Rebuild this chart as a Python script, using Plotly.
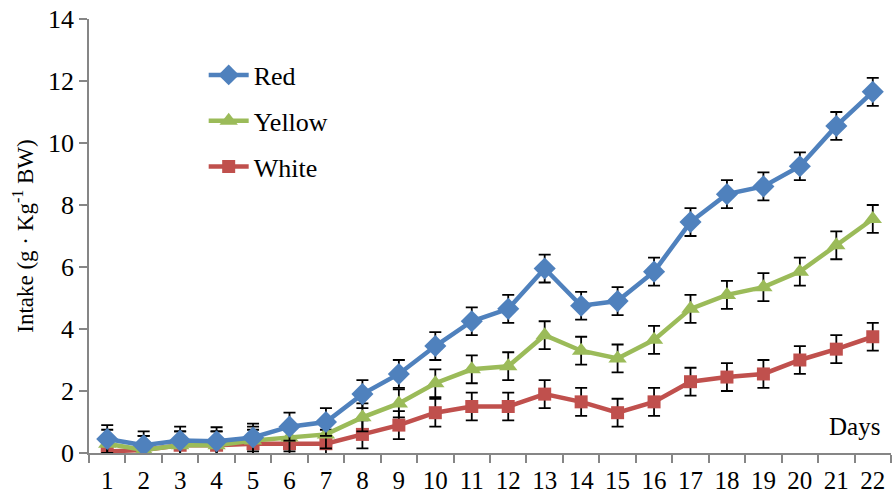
import plotly.graph_objects as go

days = list(range(1, 23))
red = [0.45, 0.25, 0.40, 0.38, 0.50, 0.85, 1.00, 1.90, 2.55, 3.45, 4.25, 4.65, 5.95, 4.75, 4.90, 5.85, 7.45, 8.35, 8.60, 9.25, 10.55, 11.65]
yellow = [0.30, 0.10, 0.25, 0.25, 0.40, 0.50, 0.60, 1.15, 1.60, 2.25, 2.70, 2.80, 3.80, 3.30, 3.05, 3.65, 4.65, 5.10, 5.35, 5.85, 6.70, 7.55]
white = [0.05, 0.10, 0.25, 0.25, 0.30, 0.30, 0.30, 0.60, 0.90, 1.30, 1.50, 1.50, 1.90, 1.65, 1.30, 1.65, 2.30, 2.45, 2.55, 3.00, 3.35, 3.75]
red_err = [0.45] * 22
yellow_err = [0.45] * 22
white_err = [0.45] * 22
y_ticks = [0, 2, 4, 6, 8, 10, 12, 14]

FONT = "Liberation Serif, Times New Roman, serif"

fig = go.Figure()
series = [
    ("White", white, white_err, "#C0504D", "square", 13),
    ("Yellow", yellow, yellow_err, "#9BBB59", "triangle-up", 16),
    ("Red", red, red_err, "#4F81BD", "diamond", 17),
]
for i, (name, vals, err, col, sym, sz) in enumerate(series):
    fig.add_trace(go.Scatter(
        x=days, y=vals, name=name, mode="lines+markers",
        line=dict(color=col, width=4.5),
        marker=dict(color=col, symbol=sym, size=sz),
        error_y=dict(type="data", array=err, color="black", thickness=1.8, width=6),
        legendgroup=name, legendrank=3 - i,
    ))

fig.update_layout(
    width=892, height=497,
    margin=dict(l=89, r=1, t=19, b=44),
    paper_bgcolor="white", plot_bgcolor="white",
    font=dict(family=FONT, size=26, color="black"),
    showlegend=True,
    legend=dict(x=0.143, y=0.925, xanchor="left", yanchor="top",
                bgcolor="rgba(0,0,0,0)", font=dict(family=FONT, size=26),
                tracegroupgap=9, itemwidth=40),
    xaxis=dict(range=[0.5, 22.5], tickmode="array", tickvals=days,
               ticktext=[str(d) for d in days],
               showline=True, linecolor="#868686", linewidth=1.5,
               ticks="", showgrid=False, zeroline=False,
               tickfont=dict(family=FONT, size=25), ticklabelstandoff=4,
               minor=dict(tickmode="array", tickvals=[d + 0.5 for d in range(0, 23)],
                          ticks="outside", ticklen=8, tickcolor="#868686", tickwidth=1.5)),
    yaxis=dict(range=[0, 14], tickmode="array", tickvals=y_ticks,
               showline=True, linecolor="#868686", linewidth=1.5,
               ticks="outside", ticklen=8, tickcolor="#868686", tickwidth=1.5,
               showgrid=False, zeroline=False, tickfont=dict(family=FONT, size=26),
               title=dict(text="Intake (g · Kg<sup>-1</sup> BW)",
                          font=dict(family=FONT, size=23), standoff=8)),
    annotations=[dict(text="Days", x=0.955, y=0.025, xref="paper", yref="paper",
                      showarrow=False, font=dict(family=FONT, size=25),
                      xanchor="center", yanchor="bottom")],
)

fig.write_html("out.html", config={"displayModeBar": False},
               post_script="document.body.style.margin='0px';")
